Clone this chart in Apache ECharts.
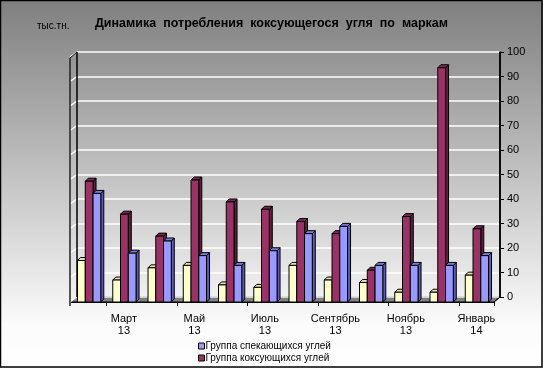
<!DOCTYPE html>
<html><head><meta charset="utf-8">
<script src="https://cdn.jsdelivr.net/npm/echarts@6/dist/echarts.min.js"></script>
<style>html,body{margin:0;padding:0;background:#fff}#c{width:543px;height:368px}</style>
</head><body><div id="c"></div>
<script>
const months = ['Февраль\n13','Март\n13','Апрель\n13','Май\n13','Июнь\n13','Июль\n13','Август\n13','Сентябрь\n13','Октябрь\n13','Ноябрь\n13','Декабрь\n13','Январь\n14'];
const otherValues = [17, 9, 14, 15, 7, 6, 15, 9, 8, 4, 4, 11];
const cokingValues = [49.5, 36, 27, 50, 41, 38, 33, 28, 13, 35, 96, 30];
const sinteringValues = [44.5, 20, 25, 19, 15, 21, 28, 31, 15, 15, 15, 19];
const yMin = 0, yMax = 100, yInterval = 10;
const unitLabel = 'тыс.тн.';
const titleText = 'Динамика  потребления  коксующегося  угля  по  маркам';
const nameOther = 'Прочие угли';
const nameSintering = 'Группа спекающихся углей';
const nameCoking = 'Группа коксующихся углей';

const FONT = 'Liberation Sans, Arial, sans-serif';

function make3D(sIdx, front, side, topc) {
  return function (params, api) {
    const cat = api.value(0), val = api.value(1);
    const p0 = api.coord([cat, 0]);
    const p1 = api.coord([cat, val]);
    const band = api.size([1, 0])[0];
    const bw = band * 0.22;
    const x = p0[0] - band / 2 + band * 0.185 + sIdx * bw;
    const yb = p0[1], yt = p1[1];
    const d = 3;
    return {
      type: 'group', children: [
        { type: 'polygon', shape: { points: [[x + bw, yt], [x + bw + d, yt - d], [x + bw + d, yb - d], [x + bw, yb]] }, style: { fill: side, stroke: '#000', lineWidth: 1 } },
        { type: 'polygon', shape: { points: [[x, yt], [x + d, yt - d], [x + bw + d, yt - d], [x + bw, yt]] }, style: { fill: topc, stroke: '#000', lineWidth: 1 } },
        { type: 'rect', shape: { x: x, y: yt, width: bw, height: yb - yt }, style: { fill: front, stroke: '#000', lineWidth: 1 } }
      ]
    };
  };
}

// wall geometry (back grid / front grid)
const BL = 77, BR = 500, BT = 52, BB = 297;
const FL = 71, FR = 494, FT = 58, FB = 302;

const wallGraphics = [];
wallGraphics.push({ type: 'polygon', z: 0, shape: { points: [[FL, FB], [BL, BB], [BR, BB], [FR, FB]] }, style: { fill: '#808080', stroke: '#000', lineWidth: 1 } });
for (let v = yMin; v <= yMax; v += yInterval) {
  const yb = BB - (v - yMin) / (yMax - yMin) * (BB - BT);
  wallGraphics.push({ type: 'line', z: 0, shape: { x1: FL - 1, y1: yb + 5, x2: BL, y2: yb }, style: { stroke: '#ffffff', lineWidth: 1.5 } });
}
wallGraphics.push({ type: 'line', z: 1, shape: { x1: BL, y1: BT, x2: BL, y2: BB }, style: { stroke: '#000', lineWidth: 1.5 } });
wallGraphics.push({ type: 'line', z: 1, shape: { x1: FL - 1, y1: FT, x2: FL - 1, y2: FB + 4 }, style: { stroke: '#222', lineWidth: 1.5 } });
wallGraphics.push({ type: 'line', z: 1, shape: { x1: FL - 1, y1: FT, x2: BL, y2: BT }, style: { stroke: '#000', lineWidth: 1 } });
wallGraphics.push({ type: 'line', z: 1, shape: { x1: BR, y1: BT, x2: BR, y2: BB }, style: { stroke: '#000', lineWidth: 1.5 } });
wallGraphics.push({ type: 'line', z: 1, shape: { x1: FR, y1: FB, x2: BR, y2: BB }, style: { stroke: '#000', lineWidth: 1 } });
wallGraphics.push({ type: 'text', z: 5, left: 37, top: 21, style: { text: unitLabel, font: '10px ' + FONT, fill: '#000' } });
wallGraphics.push({ type: 'rect', z: 10, shape: { x: 0.5, y: 0.5, width: 541.5, height: 366.5 }, style: { fill: 'none', stroke: '#000', lineWidth: 1.5 } });

const chart = echarts.init(document.getElementById('c'), null, { renderer: 'canvas' });
chart.setOption({
  animation: false,
  backgroundColor: { type: 'linear', x: 0, y: 0, x2: 0, y2: 1, colorStops: [{ offset: 0, color: '#7f7f7f' }, { offset: 0.88, color: '#fbfbfb' }, { offset: 1, color: '#ffffff' }] },
  title: { text: titleText, left: 'center', top: 12, textStyle: { fontFamily: FONT, fontSize: 12.5, fontWeight: 'bold', color: '#000' } },
  legend: {
    orient: 'vertical', left: 198, top: 341, padding: 0, itemWidth: 6, itemHeight: 6, itemGap: 2,
    data: [nameSintering, nameCoking], icon: 'rect',
    itemStyle: { borderColor: '#000', borderWidth: 1 },
    textStyle: { fontFamily: FONT, fontSize: 10, color: '#000', padding: [0, 0, 0, -4], lineHeight: 10 }
  },
  graphic: wallGraphics,
  grid: [
    { left: BL, right: 543 - BR, top: BT, bottom: 368 - BB },
    { left: FL, right: 543 - FR, top: FT, bottom: 368 - FB }
  ],
  xAxis: [
    { type: 'category', gridIndex: 0, data: months, show: false },
    {
      type: 'category', gridIndex: 1, data: months,
      axisLine: { show: true, lineStyle: { color: '#000', width: 1 } },
      axisTick: { show: true, inside: false, length: 4, lineStyle: { color: '#000' } },
      axisLabel: { interval: function (i) { return i % 2 === 1; }, fontFamily: FONT, fontSize: 11, color: '#000', lineHeight: 12, margin: 11 }
    }
  ],
  yAxis: [
    {
      type: 'value', gridIndex: 0, position: 'right', min: yMin, max: yMax, interval: yInterval,
      axisLine: { show: true, lineStyle: { color: '#000', width: 1.5 } },
      axisTick: { show: true, length: 4, lineStyle: { color: '#000' } },
      axisLabel: { fontFamily: FONT, fontSize: 11, color: '#000', margin: 7 },
      splitLine: { show: true, lineStyle: { color: '#ffffff', width: 1.5 } }
    },
    { type: 'value', gridIndex: 1, min: yMin, max: yMax, interval: yInterval, show: false, splitLine: { show: false } }
  ],
  series: [
    { type: 'custom', name: nameOther, xAxisIndex: 1, yAxisIndex: 1, itemStyle: { color: '#FFFFCC' }, renderItem: make3D(0, '#FFFFCC', '#b3b38f', '#e0e0b0'), data: otherValues.map((v, i) => [i, v]), encode: { x: 0, y: 1 } },
    { type: 'custom', name: nameCoking, xAxisIndex: 1, yAxisIndex: 1, itemStyle: { color: '#993366' }, renderItem: make3D(1, '#993366', '#5c1f3d', '#7a2952'), data: cokingValues.map((v, i) => [i, v]), encode: { x: 0, y: 1 } },
    { type: 'custom', name: nameSintering, xAxisIndex: 1, yAxisIndex: 1, itemStyle: { color: '#9999FF' }, renderItem: make3D(2, '#9999FF', '#5c5cb3', '#7a7ad9'), data: sinteringValues.map((v, i) => [i, v]), encode: { x: 0, y: 1 } }
  ]
});
</script>
</body></html>
